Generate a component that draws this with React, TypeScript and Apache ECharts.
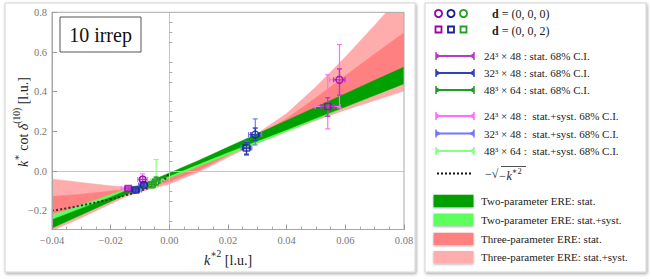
import React, { useEffect, useRef } from "react";
import * as echarts from "echarts";

// ---------- data ----------
const xTicks = [-0.04, -0.02, 0, 0.02, 0.04, 0.06, 0.08];
const yTicks = [-0.2, 0, 0.2, 0.4, 0.6, 0.8];
const yMinorTicks = [-0.25, -0.15, -0.1, -0.05, 0.05, 0.1, 0.15, 0.25, 0.3, 0.35, 0.45, 0.5, 0.55, 0.65, 0.7, 0.75];

// sample positions of the fit bands (k*^2)
const bandX = [-0.04, -0.03, -0.02, -0.015, -0.01, 0, 0.01, 0.02, 0.03, 0.04, 0.05, 0.06, 0.07, 0.08];
// Two-parameter ERE: stat.
const twoStatHi = [-0.245, -0.188, -0.131, -0.1, -0.071, -0.01, 0.054, 0.121, 0.188, 0.255, 0.323, 0.39, 0.458, 0.524];
const twoStatLo = [-0.287, -0.22, -0.153, -0.12, -0.087, -0.024, 0.036, 0.095, 0.152, 0.209, 0.267, 0.324, 0.382, 0.44];
// Two-parameter ERE: stat.+syst.
const twoSystHi = [-0.225, -0.17, -0.118, -0.092, -0.067, -0.018, 0.038, 0.097, 0.157, 0.218, 0.28, 0.342, 0.404, 0.468];
const twoSystLo = [-0.285, -0.219, -0.152, -0.119, -0.094, -0.034, 0.024, 0.083, 0.142, 0.2, 0.26, 0.322, 0.382, 0.442];
// Three-parameter ERE: stat.
const threeStatHi = [-0.128, -0.116, -0.1, -0.092, -0.078, -0.035, 0.025, 0.095, 0.175, 0.265, 0.37, 0.48, 0.59, 0.697];
const threeStatLo = [-0.215, -0.18, -0.135, -0.115, -0.095, -0.052, 0.005, 0.08, 0.155, 0.225, 0.29, 0.355, 0.41, 0.46];
// Three-parameter ERE: stat.+syst.
const threeSystHi = [-0.04, -0.057, -0.074, -0.08, -0.072, -0.025, 0.04, 0.112, 0.19, 0.29, 0.425, 0.575, 0.735, 0.9];
const threeSystLo = [-0.3, -0.235, -0.165, -0.13, -0.105, -0.065, -0.005, 0.07, 0.14, 0.2, 0.255, 0.308, 0.356, 0.403];

// -sqrt(-k*^2) curve
const sqrtX = [-0.04, -0.03, -0.02, -0.015, -0.01, -0.006, -0.003, -0.001, 0];
const sqrtY = [-0.2, -0.173, -0.141, -0.122, -0.1, -0.077, -0.055, -0.032, 0];

// points: [x, y, xStatLo, xStatHi, yStatLo, yStatHi, xSysLo, xSysHi, ySysLo, ySysHi, shape]
const l24Points: any[] = [
  [-0.0091, -0.042, -0.01, -0.0082, -0.056, -0.028, -0.0108, -0.0074, -0.066, -0.014, "circle"],
  [0.058, 0.46, 0.056, 0.0599, 0.383, 0.515, 0.0546, 0.061, 0.319, 0.638, "circle"],
  [-0.014, -0.088, -0.0152, -0.0128, -0.096, -0.08, -0.0164, -0.012, -0.1, -0.076, "rect"],
  [0.054, 0.326, 0.0517, 0.0562, 0.276, 0.37, 0.0497, 0.0582, 0.213, 0.485, "rect"],
];
const l32Points: any[] = [
  [0.0293, 0.184, 0.0278, 0.0307, 0.154, 0.217, 0.027, 0.0315, 0.132, 0.263, "circle"],
  [-0.0087, -0.07, -0.0099, -0.0075, -0.08, -0.06, -0.0105, -0.0069, -0.085, -0.055, "circle"],
  [0.0263, 0.116, 0.025, 0.0276, 0.085, 0.145, 0.0245, 0.0281, 0.08, 0.15, "rect"],
  [-0.0115, -0.095, -0.0128, -0.0102, -0.104, -0.086, -0.0135, -0.0095, -0.108, -0.082, "rect"],
];
const l48Points: any[] = [
  [-0.0045, -0.05, -0.0058, -0.0032, -0.07, -0.03, -0.0065, -0.0025, -0.08, 0.058, "circle"],
  [-0.006, -0.068, -0.0072, -0.0048, -0.08, -0.056, -0.008, -0.004, -0.085, -0.05, "rect"],
];

const statLabels = ["24³ × 48 : stat. 68% C.I.", "32³ × 48 : stat. 68% C.I.", "48³ × 64 : stat. 68% C.I."];
const systLabels = ["24³ × 48 :  stat.+syst. 68% C.I.", "32³ × 48 :  stat.+syst. 68% C.I.", "48³ × 64 :  stat.+syst. 68% C.I."];
const bandLabels = ["Two-parameter ERE: stat.", "Two-parameter ERE: stat.+syst.", "Three-parameter ERE: stat.", "Three-parameter ERE: stat.+syst."];

// ---------- styling ----------
const SERIF = '"Liberation Serif", "DejaVu Serif", serif';
const markerCol = ["#a000a8", "#1c1ca0", "#28a028"];
const statCol = ["#b040c0", "#3040b8", "#259a25"];
const systCol = ["#ff6eff", "#7474ff", "#86ff86"];
const bandCol = ["#00a000", "#5cff5c", "#ff8080", "#ffacac"];

function fmt(v: number, d: number) {
  const s = Math.abs(v).toFixed(d);
  return v < -1e-9 ? "−" + s : s;
}

function bandSeries(lo: number[], hi: number[], color: string, z: number) {
  return {
    type: "custom", silent: true, clip: true, z,
    data: bandX.map((x, i) => [x, lo[i], hi[i]]),
    renderItem: (params: any, api: any) => {
      if (params.dataIndex !== 0) return null;
      const up = bandX.map((x, i) => api.coord([x, hi[i]]));
      const dn = bandX.map((x, i) => api.coord([x, lo[i]])).reverse();
      return {
        type: "polygon",
        shape: { points: up.concat(dn) },
        style: { fill: color, stroke: color, lineWidth: 0.5 },
      };
    },
  };
}

function errSeries(points: any[], offset: number, color: string, width: number) {
  return {
    type: "custom", silent: true, z: 5, clip: false,
    data: points.map((p) => [p[0], p[1], p[offset], p[offset + 1], p[offset + 2], p[offset + 3]]),
    renderItem: (params: any, api: any) => {
      const c = api.coord([api.value(0), api.value(1)]);
      const xl = api.coord([api.value(2), api.value(1)])[0];
      const xh = api.coord([api.value(3), api.value(1)])[0];
      const yl = api.coord([api.value(0), api.value(4)])[1];
      const yh = api.coord([api.value(0), api.value(5)])[1];
      const cap = 2.5;
      const st = { stroke: color, lineWidth: width };
      return {
        type: "group",
        children: [
          { type: "line", shape: { x1: c[0], y1: yl, x2: c[0], y2: yh }, style: st },
          { type: "line", shape: { x1: xl, y1: c[1], x2: xh, y2: c[1] }, style: st },
          { type: "line", shape: { x1: c[0] - cap, y1: yl, x2: c[0] + cap, y2: yl }, style: st },
          { type: "line", shape: { x1: c[0] - cap, y1: yh, x2: c[0] + cap, y2: yh }, style: st },
          { type: "line", shape: { x1: xl, y1: c[1] - cap, x2: xl, y2: c[1] + cap }, style: st },
          { type: "line", shape: { x1: xh, y1: c[1] - cap, x2: xh, y2: c[1] + cap }, style: st },
        ],
      };
    },
  };
}

function markerSeries(points: any[], shape: string, color: string) {
  return {
    type: "scatter", silent: true, z: 6,
    symbol: shape, symbolSize: shape === "rect" ? 6 : 7,
    data: points.filter((p) => p[10] === shape).map((p) => [p[0], p[1]]),
    itemStyle: { color: "rgba(0,0,0,0)", borderColor: color, borderWidth: 1.5 },
  };
}

function legendBar(y: number, color: string, x0 = 436, x1 = 474) {
  const st = { stroke: color, lineWidth: 2 };
  return [
    { type: "line", shape: { x1: x0, y1: y, x2: x1, y2: y }, style: st, z: 20 },
    { type: "line", shape: { x1: x0, y1: y - 4, x2: x0, y2: y + 4 }, style: { stroke: color, lineWidth: 1.5 }, z: 20 },
    { type: "line", shape: { x1: x1, y1: y - 4, x2: x1, y2: y + 4 }, style: { stroke: color, lineWidth: 1.5 }, z: 20 },
    { type: "polygon", shape: { points: [[x0, y - 3], [x0, y + 3], [x0 + 5, y]] }, style: { fill: color }, z: 20 },
    { type: "polygon", shape: { points: [[x1, y - 3], [x1, y + 3], [x1 - 5, y]] }, style: { fill: color }, z: 20 },
  ];
}

function legendText(x: number, y: number, text: string, size = 11) {
  return {
    type: "text", x, y, z: 20,
    style: { text, font: `${size}px ${SERIF}`, fill: "#222", verticalAlign: "middle", align: "left" },
  };
}

export default function App() {
  const ref = useRef<HTMLDivElement>(null);
  useEffect(() => {
    if (!ref.current) return;
    const chart = echarts.init(ref.current, undefined, { renderer: "svg" });

    const richSup = {
      i: { fontFamily: SERIF, fontSize: 14, fontStyle: "italic", color: "#222", lineHeight: 18, verticalAlign: "bottom" },
      r: { fontFamily: SERIF, fontSize: 14, color: "#222", lineHeight: 18, verticalAlign: "bottom" },
      s: { fontFamily: SERIF, fontSize: 9.5, color: "#222", lineHeight: 10, verticalAlign: "top" },
    };

    const graphic: any[] = [
      // panel frames
      {
        type: "rect", shape: { x: 5, y: 3, width: 410, height: 269 }, z: -5,
        style: { fill: "#fff", stroke: "#d4d4d4", lineWidth: 1, shadowBlur: 3, shadowOffsetX: 1, shadowOffsetY: 1.5, shadowColor: "rgba(0,0,0,0.35)" },
      },
      {
        type: "rect", shape: { x: 425, y: 3, width: 221, height: 269 }, z: -5,
        style: { fill: "#fff", stroke: "#d4d4d4", lineWidth: 1, shadowBlur: 3, shadowOffsetX: 1, shadowOffsetY: 1.5, shadowColor: "rgba(0,0,0,0.35)" },
      },
      // label box
      { type: "rect", shape: { x: 60, y: 17, width: 81, height: 35 }, style: { fill: "#fff", stroke: "#555", lineWidth: 1 }, z: 30 },
      {
        type: "text", x: 100.5, y: 35, z: 31,
        style: { text: "10 irrep", font: `20px ${SERIF}`, fill: "#111", align: "center", verticalAlign: "middle" },
      },
      // axis titles
      {
        type: "text", x: 228, y: 258, z: 31,
        style: { text: "{i|k}{s|∗2}{r| [l.u.]}", align: "center", verticalAlign: "middle", fill: "#222", rich: richSup },
      },
      {
        type: "text", x: 21, y: 122, rotation: Math.PI / 2, z: 31,
        style: { text: "{i|k}{s|∗}{r| cot }{i|δ}{s|(10)}{r| [l.u.]}", align: "center", verticalAlign: "middle", fill: "#222", rich: richSup },
      },
    ];

    // legend: symbols
    markerCol.forEach((c, i) => {
      graphic.push({ type: "circle", shape: { cx: 438.5 + i * 12.5, cy: 13.5, r: 3.6 }, style: { fill: "none", stroke: c, lineWidth: 1.8 }, z: 20 });
      graphic.push({ type: "rect", shape: { x: 435.5 + i * 12.5, y: 26.5, width: 6, height: 6 }, style: { fill: "none", stroke: c, lineWidth: 1.8 }, z: 20 });
    });
    graphic.push({
      type: "text", x: 492, y: 14, z: 20,
      style: { text: "{b|d} = (0, 0, 0)", font: `12px ${SERIF}`, fill: "#222", verticalAlign: "middle", rich: { b: { fontWeight: "bold", fontFamily: SERIF, fontSize: 12 } } },
    });
    graphic.push({
      type: "text", x: 492, y: 30.5, z: 20,
      style: { text: "{b|d} = (0, 0, 2)", font: `12px ${SERIF}`, fill: "#222", verticalAlign: "middle", rich: { b: { fontWeight: "bold", fontFamily: SERIF, fontSize: 12 } } },
    });
    const statY = [56, 73, 90];
    const systY = [116, 133.5, 151];
    statLabels.forEach((t, i) => {
      graphic.push(...legendBar(statY[i], statCol[i]));
      graphic.push(legendText(484, statY[i], t));
    });
    systLabels.forEach((t, i) => {
      graphic.push(...legendBar(systY[i], systCol[i]));
      graphic.push(legendText(484, systY[i], t));
    });
    // dotted line legend
    graphic.push({ type: "line", shape: { x1: 437, y1: 173.5, x2: 471, y2: 173.5 }, style: { stroke: "#111", lineWidth: 2, lineDash: [2, 2] }, z: 20 });
    graphic.push({
      type: "text", x: 485, y: 174, z: 20,
      style: {
        text: "−√{i|−k}{s|∗2}", font: `12px ${SERIF}`, fill: "#222", verticalAlign: "middle",
        rich: { i: { fontFamily: SERIF, fontSize: 12, fontStyle: "italic", lineHeight: 16, verticalAlign: "bottom" }, s: { fontFamily: SERIF, fontSize: 8.5, lineHeight: 9, verticalAlign: "top" } },
      },
    });
    graphic.push({ type: "line", shape: { x1: 501, y1: 166.5, x2: 526, y2: 166.5 }, style: { stroke: "#222", lineWidth: 0.8 }, z: 20 });
    // band swatches
    const swY = [201, 219.7, 239, 257.3];
    bandLabels.forEach((t, i) => {
      graphic.push({
        type: "rect", shape: { x: 433.5, y: swY[i] - 6.3, width: 40, height: 12.6 }, z: 20,
        style: { fill: bandCol[i], shadowBlur: 2, shadowOffsetY: 1, shadowColor: "rgba(0,0,0,0.3)" },
      });
      graphic.push(legendText(481, swY[i], t));
    });

    const option: any = {
      animation: false,
      backgroundColor: "#fff",
      grid: { left: 52, right: 247, top: 12.3, bottom: 49.5, show: true, borderColor: "#a8a8a8", borderWidth: 1, backgroundColor: "transparent", z: 8 },
      xAxis: {
        type: "value", min: -0.04, max: 0.08, interval: 0.02,
        axisLine: { show: true, onZero: false, lineStyle: { color: "#a8a8a8", width: 1 } },
        axisTick: { show: true, inside: true, length: 5, lineStyle: { color: "#999" } },
        minorTick: { show: true, splitNumber: 4, length: 3, lineStyle: { color: "#aaa" } },
        splitLine: { show: false },
        axisLabel: { margin: 5, color: "#777", fontFamily: SERIF, fontSize: 10.5, formatter: (v: number) => fmt(v, 2) },
        z: 8,
      },
      yAxis: [
        {
          type: "value", min: -0.294, max: 0.8,
          axisLine: { show: true, onZero: false, lineStyle: { color: "#a8a8a8", width: 1 } },
          axisTick: { show: true, inside: true, length: 5, customValues: yTicks, lineStyle: { color: "#999" } },
          axisLabel: { margin: 5, color: "#777", fontFamily: SERIF, fontSize: 10.5, customValues: yTicks, formatter: (v: number) => fmt(v, 1) },
          splitLine: { show: false },
          z: 8,
        },
        {
          type: "value", min: -0.294, max: 0.8, position: "left",
          axisLine: { show: false },
          axisTick: { show: true, inside: true, length: 3, customValues: yMinorTicks, lineStyle: { color: "#aaa" } },
          axisLabel: { show: false },
          splitLine: { show: false },
          z: 8,
        },
      ],
      graphic,
      series: [
        {
          type: "line", data: [], silent: true, z: 1,
          markLine: {
            silent: true, symbol: ["none", "none"], label: { show: false },
            lineStyle: { color: "#c4c4c4", width: 1, type: "solid" },
            data: [{ xAxis: 0 }, { yAxis: 0 }],
          },
        },
        bandSeries(threeSystLo, threeSystHi, bandCol[3], 2),
        bandSeries(threeStatLo, threeStatHi, bandCol[2], 2),
        bandSeries(twoSystLo, twoSystHi, bandCol[1], 2),
        bandSeries(twoStatLo, twoStatHi, bandCol[0], 2),
        {
          type: "line", silent: true, smooth: true, symbol: "none", z: 3,
          data: sqrtX.map((x, i) => [x, sqrtY[i]]),
          lineStyle: { color: "#333", width: 2, type: [2, 2.2] },
        },
        errSeries(l24Points, 6, systCol[0], 1.2),
        errSeries(l32Points, 6, systCol[1], 1.2),
        errSeries(l48Points, 6, systCol[2], 1.2),
        errSeries(l24Points, 2, statCol[0], 1.4),
        errSeries(l32Points, 2, statCol[1], 1.4),
        errSeries(l48Points, 2, statCol[2], 1.4),
        markerSeries(l24Points, "circle", markerCol[0]),
        markerSeries(l24Points, "rect", markerCol[0]),
        markerSeries(l32Points, "circle", markerCol[1]),
        markerSeries(l32Points, "rect", markerCol[1]),
        markerSeries(l48Points, "circle", markerCol[2]),
        markerSeries(l48Points, "rect", markerCol[2]),
      ],
    };
    chart.setOption(option);
    return () => chart.dispose();
  }, []);
  return <div ref={ref} style={{ position: "absolute", left: 0, top: 0, width: 651, height: 279 }} />;
}
